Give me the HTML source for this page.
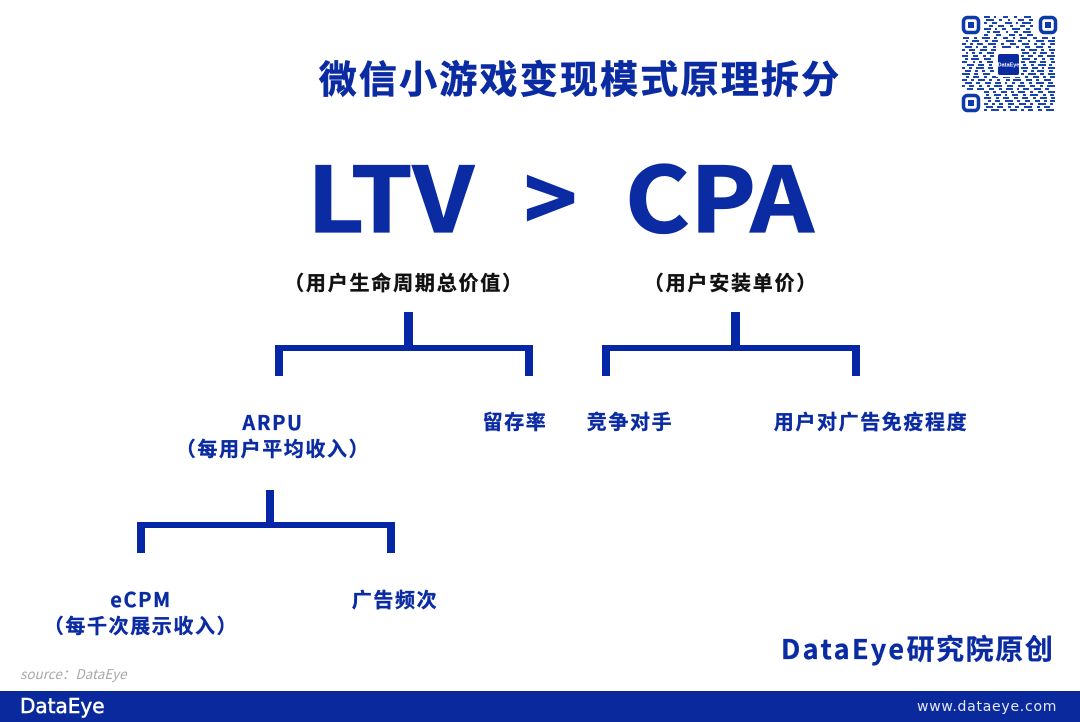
<!DOCTYPE html>
<html lang="zh"><head><meta charset="utf-8"><style>
html,body{margin:0;padding:0;background:#fff}
#p{position:relative;width:1080px;height:722px;overflow:hidden;background:#fff;font-family:"Noto Sans CJK SC","Liberation Sans",sans-serif;font-weight:700;color:#0b2ba3}
.t{position:absolute;white-space:nowrap;line-height:40px;height:40px}
.c{transform:translateX(-50%);text-align:center}
.b{position:absolute;background:#0527a5}
.l{font-size:20px;letter-spacing:1.6px;-webkit-text-stroke:.35px currentColor}
.h{font-size:90px;transform-origin:0 50%;-webkit-text-stroke:1.2px currentColor}
</style></head><body><div id="p">
<div class="t c" style="left:580px;top:57px;font-size:38px;letter-spacing:2.2px;-webkit-text-stroke:.6px currentColor">微信小游戏变现模式原理拆分</div>
<div class="t h" style="left:307px;top:173px;transform:scaleX(1.1)">LTV</div>
<div class="t h" style="left:524px;top:173px">&gt;</div>
<div class="t h" style="left:625px;top:173px;transform:scaleX(1.1)">CPA</div>
<div class="t c" style="left:404px;top:262px;font-size:20px;letter-spacing:1.8px;color:#111;-webkit-text-stroke:.35px #111">（用户生命周期总价值）</div>
<div class="t c" style="left:731px;top:262px;font-size:20px;letter-spacing:1.8px;color:#111;-webkit-text-stroke:.35px #111">（用户安装单价）</div>

<div class="b" style="left:275px;top:345px;width:258px;height:6px"></div>
<div class="b" style="left:275px;top:345px;width:8px;height:31px"></div>
<div class="b" style="left:525px;top:345px;width:8px;height:31px"></div>
<div class="b" style="left:404px;top:312px;width:9px;height:35px"></div>

<div class="b" style="left:602px;top:345px;width:258px;height:6px"></div>
<div class="b" style="left:602px;top:345px;width:8px;height:31px"></div>
<div class="b" style="left:852px;top:345px;width:8px;height:31px"></div>
<div class="b" style="left:731px;top:312px;width:9px;height:35px"></div>

<div class="b" style="left:137px;top:522px;width:258px;height:6px"></div>
<div class="b" style="left:137px;top:522px;width:8px;height:31px"></div>
<div class="b" style="left:387px;top:522px;width:8px;height:31px"></div>
<div class="b" style="left:266px;top:490px;width:8px;height:34px"></div>

<div class="t c l" style="left:273px;top:402px">ARPU</div>
<div class="t c l" style="left:273px;top:428px">（每用户平均收入）</div>
<div class="t c l" style="left:515px;top:401px">留存率</div>
<div class="t c l" style="left:630px;top:401px">竞争对手</div>
<div class="t c l" style="left:871px;top:401px">用户对广告免疫程度</div>
<div class="t c l" style="left:141px;top:579px">eCPM</div>
<div class="t c l" style="left:141px;top:605px">（每千次展示收入）</div>
<div class="t c l" style="left:395px;top:579px">广告频次</div>

<div class="t" style="left:781px;top:628px;font-size:28px;letter-spacing:1.6px;-webkit-text-stroke:.3px currentColor"><span style="font-size:27px;letter-spacing:2.4px">DataEye</span>研究院原创</div>
<div class="t" style="left:20px;top:653px;font-size:13.5px;font-weight:400;font-style:italic;color:#a8a8a8">source：DataEye</div>

<div style="position:absolute;left:0;top:691px;width:1080px;height:31px;background:#09299c"></div>
<div class="t" style="left:20px;top:686px;font-size:20px;font-weight:400;color:#fff;font-family:'DejaVu Sans','Liberation Sans',sans-serif;-webkit-text-stroke:.5px #fff">DataEye</div>
<div class="t" style="left:917px;top:687px;font-size:14px;font-weight:400;color:#e4e8f5;font-family:'DejaVu Sans','Liberation Sans',sans-serif;letter-spacing:.75px">www.dataeye.com</div>

<svg style="position:absolute;left:0;top:0" width="1080" height="722" viewBox="0 0 1080 722">
<g fill="none" stroke="#0c3aa8" stroke-width="3.5">
<rect x="963.5" y="17.5" width="15" height="15" rx="4"/>
<rect x="1040.5" y="17.5" width="15" height="15" rx="4"/>
<rect x="963.5" y="95.5" width="15" height="15" rx="4"/>
</g>
<g fill="#0c3aa8">
<rect x="968" y="22" width="6" height="6"/><rect x="1045" y="22" width="6" height="6"/><rect x="968" y="100" width="6" height="6"/>
</g>
<path fill="none" stroke="#1a45b0" stroke-width="2.1" d="
M984 17h6M994 17h2M1003 17h5M1014 17h3M1024 17h7
M986 20h8M999 20h3M1008 20h2M1018 20h6M1029 20h4
M984 23h3M992 23h5M1005 23h7M1016 23h2M1022 23h9
M989 26h4M998 26h6M1010 26h3M1020 26h5M1030 26h3
M984 29h7M995 29h2M1002 29h4M1012 29h8M1026 29h4
M987 32h3M993 32h7M1006 32h2M1014 32h4M1023 32h8
M984 35h4M996 35h5M1009 35h6M1019 35h3M1027 35h6
M963 38h6M974 38h3M982 38h8M994 38h3M1003 38h5M1013 38h2M1020 38h7M1033 38h4M1042 38h6M1052 38h3
M966 41h2M972 41h7M985 41h3M992 41h6M1006 41h8M1018 41h4M1028 41h2M1036 41h8M1048 41h7
M962 44h4M970 44h3M977 44h6M988 44h8M1001 44h3M1010 44h6M1022 44h7M1034 44h3M1041 44h4M1050 44h5
M965 47h7M976 47h2M983 47h4M993 47h3M1002 47h9M1016 47h3M1025 47h5M1036 47h7M1048 47h3
M962 50h3M969 50h6M980 50h7M991 50h5M1021 50h4M1029 50h8M1041 50h3M1049 50h6
M966 53h2M972 53h3M979 53h3M987 53h7M1022 53h7M1033 53h3M1040 53h7M1051 53h3
M962 56h6M973 56h5M983 56h3M990 56h4M1021 56h3M1028 56h5M1038 56h5M1047 56h8
M965 59h3M971 59h8M984 59h7M1022 59h8M1034 59h3M1042 59h3M1050 59h4
M962 62h5M973 62h2M979 62h3M987 62h6M1021 62h4M1029 62h7M1040 62h6M1051 62h4
M967 65h7M978 65h6M989 65h3M1023 65h3M1031 65h3M1038 65h8M1049 65h3
M962 68h3M969 68h3M976 68h8M988 68h5M1021 68h7M1032 68h6M1042 68h2M1048 68h7
M965 71h6M975 71h3M982 71h3M990 71h4M1023 71h4M1031 71h3M1037 71h7M1049 71h4
M962 74h8M974 74h4M983 74h7M1021 74h3M1028 74h8M1040 74h4M1048 74h7
M966 77h3M973 77h6M984 77h3M992 77h6M1003 77h7M1015 77h5M1025 77h3M1033 77h6M1043 77h3M1050 77h5
M962 80h5M971 80h3M978 80h7M989 80h3M997 80h3M1006 80h4M1013 80h8M1026 80h6M1036 80h3M1044 80h7
M965 83h7M976 83h4M985 83h6M995 83h6M1005 83h2M1012 83h3M1020 83h4M1029 83h3M1036 83h8M1048 83h5
M962 86h3M969 86h5M979 86h3M987 86h3M994 86h8M1007 86h6M1018 86h7M1030 86h5M1040 86h3M1047 86h8
M967 89h6M977 89h7M989 89h5M999 89h3M1006 89h7M1017 89h2M1023 89h6M1034 89h7M1045 89h4
M984 92h5M993 92h3M1001 92h6M1011 92h3M1018 92h7M1030 92h3M1038 92h5M1048 92h7
M986 95h3M994 95h7M1005 95h2M1012 95h6M1023 95h3M1030 95h8M1043 95h3M1050 95h4
M984 98h7M996 98h3M1003 98h6M1014 98h4M1022 98h6M1033 98h3M1040 98h7M1051 98h4
M988 101h3M995 101h5M1005 101h8M1017 101h3M1025 101h5M1035 101h5M1044 101h3M1050 101h5
M984 104h4M992 104h3M999 104h4M1008 104h6M1019 104h7M1030 104h3M1038 104h8M1050 104h3
M986 107h7M997 107h6M1008 107h3M1015 107h4M1024 107h8M1037 107h3M1044 107h6
M984 110h3M991 110h8M1003 110h3M1010 110h7M1021 110h3M1028 110h5M1038 110h4M1046 110h8
"/>
<rect x="996" y="52" width="25" height="25" fill="#fff"/>
<rect x="998" y="54" width="21" height="21" rx="2" fill="#0a2aa0"/>
<text x="1008.500" y="66.500" text-anchor="middle" font-size="5.500" fill="#fff" font-family="Liberation Sans,sans-serif">DataEye</text>
</svg>
</div></body></html>
